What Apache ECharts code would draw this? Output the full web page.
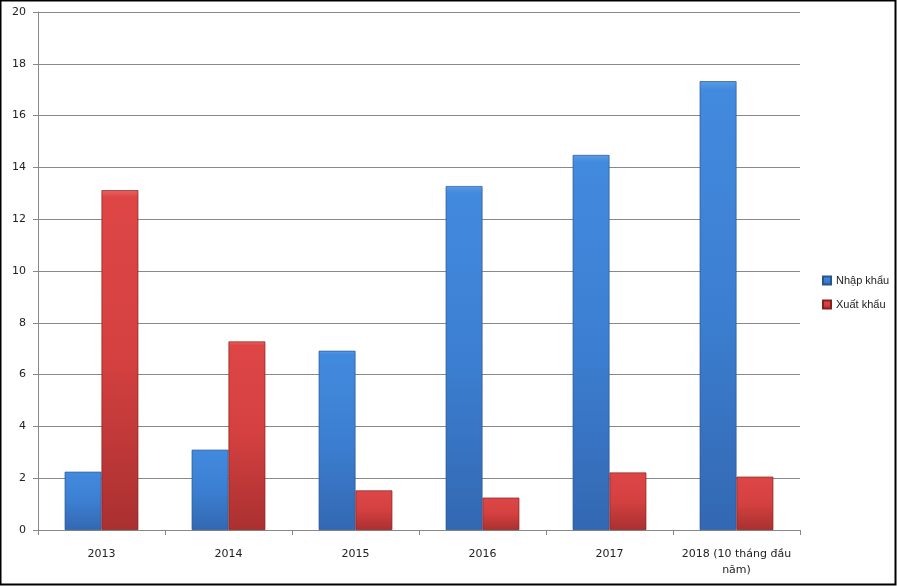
<!DOCTYPE html>
<html><head><meta charset="utf-8">
<script src="https://cdn.jsdelivr.net/npm/echarts@6/dist/echarts.min.js"></script>
<style>html,body{margin:0;padding:0;background:#fff}#c{width:897px;height:586px;box-sizing:border-box;}</style>
</head><body><div id="c"></div>
<script>
const categories = ['2013','2014','2015','2016','2017','2018 (10 tháng đầu\nnăm)'];
const importValues = [2.25, 3.1, 6.92, 13.28, 14.48, 17.33];
const exportValues = [13.12, 7.28, 1.53, 1.25, 2.22, 2.06];
const yTicks = {min:0, max:20, interval:2};

const chart = echarts.init(document.getElementById('c'));
const blueGrad = new echarts.graphic.LinearGradient(0,0,0,1,[
  {offset:0,color:'#5a9be6'},{offset:0.02,color:'#428ade'},{offset:0.5,color:'#3c7fd2'},{offset:1,color:'#3368b2'}]);
const redGrad = new echarts.graphic.LinearGradient(0,0,0,1,[
  {offset:0,color:'#ea6262'},{offset:0.02,color:'#de4646'},{offset:0.5,color:'#d44040'},{offset:1,color:'#aa3030'}]);
chart.setOption({
  animation:false,
  textStyle:{fontFamily:'DejaVu Sans'},
  graphic:[{type:'rect',shape:{x:0.5,y:0.5,width:895,height:584},style:{fill:null,stroke:'#000',lineWidth:2},silent:true}],
  grid:{left:38,top:12,right:97,bottom:56,containLabel:false},
  legend:{orient:'vertical',left:817,top:270,itemWidth:8,itemHeight:8,itemGap:13,icon:'rect',
    textStyle:{fontSize:11,color:'#222',fontFamily:'Liberation Sans'},data:['Nhập khẩu','Xuất khẩu']},
  xAxis:{type:'category',data:categories,
    axisLine:{lineStyle:{color:'#888'}},axisTick:{show:true,length:5,lineStyle:{color:'#888'}},
    axisLabel:{color:'#222',fontSize:11,margin:16,lineHeight:16,interval:0}},
  yAxis:{type:'value',min:yTicks.min,max:yTicks.max,interval:yTicks.interval,
    axisLine:{show:true,lineStyle:{color:'#888'}},axisTick:{show:true,length:5,lineStyle:{color:'#888'}},
    splitLine:{lineStyle:{color:'#888'}},axisLabel:{color:'#222',fontSize:11,margin:12}},
  series:[
    {name:'Nhập khẩu',type:'bar',data:importValues,barGap:'0%',barCategoryGap:'42%',
     itemStyle:{color:blueGrad,borderColor:'#28548f',borderWidth:0.7}},
    {name:'Xuất khẩu',type:'bar',data:exportValues,
     itemStyle:{color:redGrad,borderColor:'#862020',borderWidth:0.7}}
  ]
});
</script></body></html>
